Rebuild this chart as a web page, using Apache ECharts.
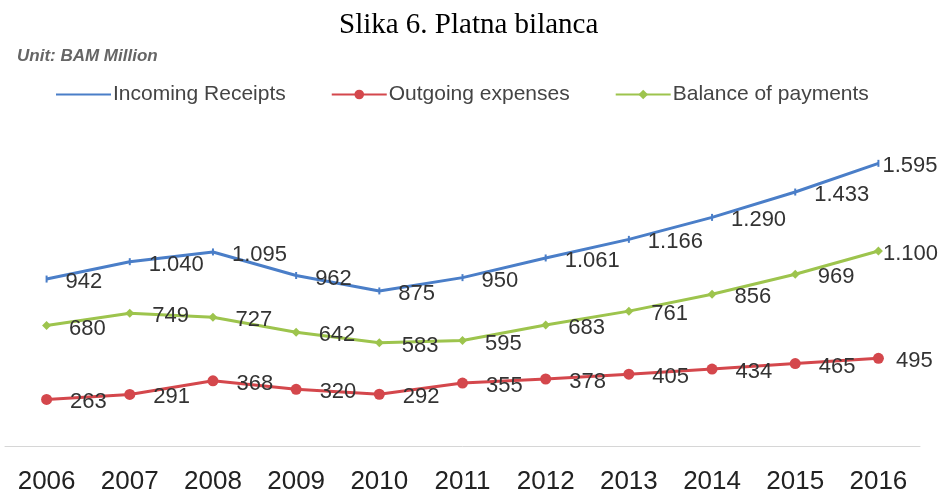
<!DOCTYPE html>
<html>
<head>
<meta charset="utf-8">
<script src="https://cdn.jsdelivr.net/npm/echarts@6/dist/echarts.min.js"></script>
<style>
  html, body { margin: 0; padding: 0; background: #fff; }
  #chart { width: 939px; height: 495px; }
</style>
</head>
<body>
<div id="chart"></div>
<script>
const years = ["2006", "2007", "2008", "2009", "2010", "2011", "2012", "2013", "2014", "2015", "2016"];
const incoming = [942, 1040, 1095, 962, 875, 950, 1061, 1166, 1290, 1433, 1595];
const outgoing = [263, 291, 368, 320, 292, 355, 378, 405, 434, 465, 495];
const balance = [680, 749, 727, 642, 583, 595, 683, 761, 856, 969, 1100];

const fmt = (v) => {
  const s = String(v);
  return s.length > 3 ? s.slice(0, s.length - 3) + "." + s.slice(-3) : s;
};

const chart = echarts.init(document.getElementById("chart"));

const labelFont = { fontFamily: "Liberation Sans, Arial, sans-serif", fontSize: 22, color: "#333" };

// last label sits closer to the point so it stays inside the canvas
const mkData = (arr, lastDist) =>
  arr.map((v, i) =>
    i === arr.length - 1 ? { value: v, label: { distance: lastDist } } : v
  );

const mkSeries = (name, arr, color, symbol, size, lastDist) => ({
  name,
  type: "line",
  data: mkData(arr, lastDist),
  symbol,
  symbolSize: size,
  lineStyle: { color, width: 3 },
  itemStyle: { color },
  label: {
    show: true,
    position: "right",
    distance: 18,
    offset: [0, 3],
    formatter: (p) => fmt(p.value),
    ...labelFont,
  },
  z: 3,
});

chart.setOption({
  backgroundColor: "#fff",
  animation: false,
  title: [
    {
      text: "Slika 6. Platna bilanca",
      left: 334,
      top: 6,
      textStyle: { fontFamily: "Liberation Serif, Times New Roman, serif", fontSize: 29, fontWeight: "normal", color: "#000" },
    },
    {
      text: "Unit: BAM Million",
      left: 12,
      top: 43,
      textStyle: { fontFamily: "Liberation Sans, Arial, sans-serif", fontSize: 17, fontStyle: "italic", fontWeight: "bold", color: "#666" },
    },
  ],
  legend: {
    left: 50,
    top: 79,
    itemWidth: 55,
    itemHeight: 12,
    itemGap: 45,
    textStyle: { fontFamily: "Liberation Sans, Arial, sans-serif", fontSize: 21, color: "#444", padding: [0, 0, 0, -3] },
    data: [
      { name: "Incoming Receipts", itemStyle: { color: "rgba(0,0,0,0)", borderWidth: 0 } },
      "Outgoing expenses",
      "Balance of payments",
    ],
  },
  grid: { left: 5, right: 19, top: 127, bottom: 45 },
  xAxis: {
    type: "category",
    data: years,
    boundaryGap: true,
    axisLine: { lineStyle: { color: "#d6d6d6", width: 1 } },
    axisTick: { show: false },
    axisLabel: { fontFamily: "Liberation Sans, Arial, sans-serif", fontSize: 26, color: "#222", margin: 23 },
  },
  yAxis: {
    type: "value",
    min: 0,
    max: 1800,
    show: false,
    splitLine: { show: false },
  },
  series: [
    mkSeries("Incoming Receipts", incoming, "#4a7ec8", "rect", [2, 7], 3),
    mkSeries("Outgoing expenses", outgoing, "#d4474c", "circle", 11, 12),
    mkSeries("Balance of payments", balance, "#9dc44d", "diamond", 9, 0),
  ],
});
</script>
</body>
</html>
